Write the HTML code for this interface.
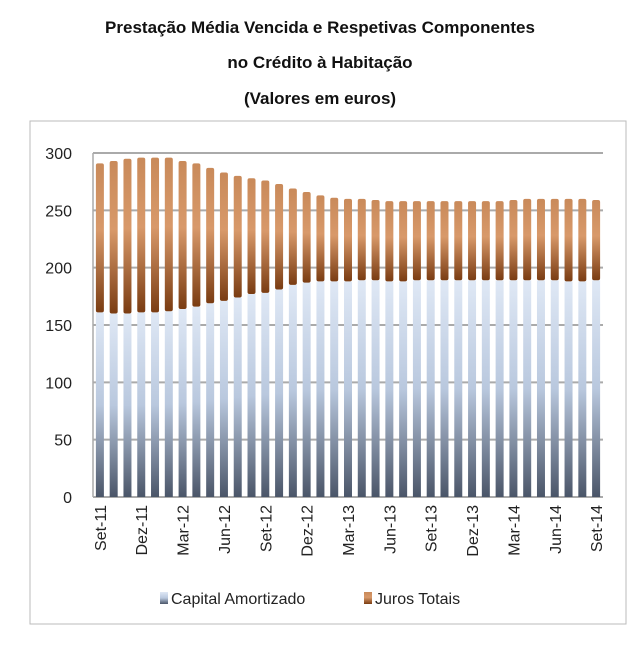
<!DOCTYPE html>
<html><head><meta charset="utf-8"><style>
body{margin:0;background:#fff;font-family:"Liberation Sans",sans-serif}
</style></head><body>
<svg width="640" height="641" viewBox="0 0 640 641" xmlns="http://www.w3.org/2000/svg">
<defs>
<linearGradient id="gb" x1="0" y1="0" x2="0" y2="1"><stop offset="0" stop-color="#dfe8f5"/><stop offset="0.5" stop-color="#b9c8de"/><stop offset="1" stop-color="#4a5568"/></linearGradient>
<linearGradient id="go" x1="0" y1="0" x2="0" y2="1"><stop offset="0" stop-color="#c98a5a"/><stop offset="0.45" stop-color="#d8996a"/><stop offset="1" stop-color="#7a3c12"/></linearGradient>
</defs>
<rect x="30" y="121" width="596" height="503" fill="none" stroke="#bbb"/>
<g font-weight="bold" font-size="17" text-anchor="middle" fill="#111">
<text x="320" y="33">Prestação Média Vencida e Respetivas Componentes</text>
<text x="320" y="68">no Crédito à Habitação</text>
<text x="320" y="104">(Valores em euros)</text>
</g>
<g id="grid"></g><g id="bars"></g><g id="xl"></g>
<g font-size="16" fill="#222">
<rect x="160" y="592" width="8" height="12" fill="url(#gb)"/>
<text x="171" y="604">Capital Amortizado</text>
<rect x="364" y="592" width="8" height="12" fill="url(#go)"/>
<text x="375" y="604">Juros Totais</text>
</g>
</svg>
<script>
const categories=["Set-11","Out-11","Nov-11","Dez-11","Jan-12","Fev-12","Mar-12","Abr-12","Mai-12","Jun-12","Jul-12","Ago-12","Set-12","Out-12","Nov-12","Dez-12","Jan-13","Fev-13","Mar-13","Abr-13","Mai-13","Jun-13","Jul-13","Ago-13","Set-13","Out-13","Nov-13","Dez-13","Jan-14","Fev-14","Mar-14","Abr-14","Mai-14","Jun-14","Jul-14","Ago-14","Set-14"];
const capital=[161,160,160,161,161,162,164,166,169,171,174,177,178,181,185,187,188,188,188,189,189,188,188,189,189,189,189,189,189,189,189,189,189,189,188,188,189];
const totals=[291,293,295,296,296,296,293,291,287,283,280,278,276,273,269,266,263,261,260,260,259,258,258,258,258,258,258,258,258,258,259,260,260,260,260,260,259];
const yTicks=[0,50,100,150,200,250,300];
const NS="http://www.w3.org/2000/svg";
const y0=497,y1=153,x0=93,x1=603;
const y=v=>y0-(v/300)*(y0-y1);
const step=(x1-x0)/categories.length;
const x=i=>x0+step*(i+0.5);
function mk(t,a,p){const e=document.createElementNS(NS,t);for(const k in a)e.setAttribute(k,a[k]);p.appendChild(e);return e;}
const g=document.getElementById('grid');
yTicks.forEach(v=>{
 const l=mk('line',{x1:x0,x2:x1,y1:y(v),y2:y(v),stroke:'#aaa','stroke-width':2},g);
 
 
 const t=mk('text',{x:72,y:y(v)+6,'text-anchor':'end','font-size':16,fill:'#222'},g);
 t.textContent=v;
 
 
});
const ax=mk('line',{x1:x0,x2:x0,y1:y1,y2:y0,stroke:'#aaa','stroke-width':1.5},g);


const b=document.getElementById('bars');
const bw=8;
categories.forEach((c,i)=>{
 const r1=mk('rect',{x:x(i)-bw/2,y:y(capital[i]),width:bw,height:y0-y(capital[i]),fill:'url(#gb)'},b);
 
 
 const r2=mk('rect',{x:x(i)-bw/2,y:y(totals[i]),width:bw,height:y(capital[i])-y(totals[i]),fill:'url(#go)',rx:2},b);
 
 
});
const xl=document.getElementById('xl');
categories.forEach((c,i)=>{
 if(i%3!==0)return;
 const t=mk('text',{x:0,y:0,'text-anchor':'end','font-size':16,fill:'#222',transform:`translate(${x(i)+6},${y0+8}) rotate(-90)`},xl);
 t.textContent=c;
 
 
});
</script>
</body></html>
